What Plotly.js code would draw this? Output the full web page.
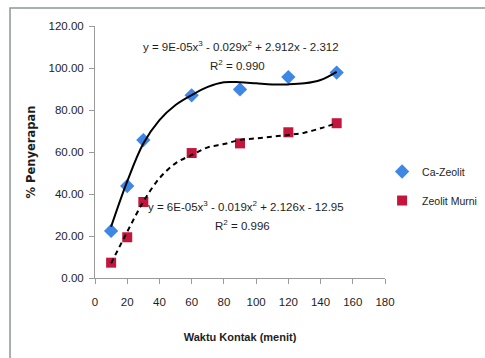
<!DOCTYPE html>
<html>
<head>
<meta charset="utf-8">
<script src="https://cdn.plot.ly/plotly-3.0.1.min.js"></script>
<style>html,body{margin:0;padding:0;background:#fff;}#chart{width:485px;height:358px;}</style>
</head>
<body>
<div id="chart"></div>
<script>
// Measured data
const waktu = [10, 20, 30, 60, 90, 120, 150];
const caZeolit = [22.4, 43.8, 65.7, 87.0, 89.8, 95.7, 97.8];
const zeolitMurni = [7.3, 19.4, 36.2, 59.5, 64.1, 69.4, 73.7];

// Trendline points
const trendX = [10, 20, 30, 40, 50, 60, 70, 80, 90, 100, 110, 120, 130, 140, 150];
const trendCa = [24.4, 46.0, 64.0, 75.2, 82.4, 87.1, 91.0, 93.2, 93.2, 92.7, 92.2, 92.2, 92.7, 94.3, 98.2];
const trendMurni = [7.0, 22.0, 36.3, 47.5, 54.6, 58.6, 62.2, 63.8, 65.7, 66.5, 67.3, 68.1, 69.2, 71.3, 73.7];

const xTicks = [0, 20, 40, 60, 80, 100, 120, 140, 160, 180];
const yTicks = [0, 20, 40, 60, 80, 100, 120];
const yTickText = ["0.00", "20.00", "40.00", "60.00", "80.00", "100.00", "120.00"];

const seriesNames = ["Ca-Zeolit", "Zeolit Murni"];
const eqCa = "y = 9E-05x<sup>3</sup> - 0.029x<sup>2</sup> + 2.912x - 2.312";
const r2Ca = "R<sup>2</sup> = 0.990";
const eqMurni = "y = 6E-05x<sup>3</sup> - 0.019x<sup>2</sup> + 2.126x - 12.95";
const r2Murni = "R<sup>2</sup> = 0.996";

const FONT = "'Liberation Sans', Arial, sans-serif";
const TXT = '#1e1e1e';

const traces = [
  {x: waktu, y: caZeolit, name: seriesNames[0], legendgroup: 'a', type: 'scatter', mode: 'markers',
   marker: {symbol: 'diamond', size: 11, color: '#3f87e5'}},
  {x: waktu, y: zeolitMurni, name: seriesNames[1], legendgroup: 'b', type: 'scatter', mode: 'markers',
   marker: {symbol: 'square', size: 10, color: '#c4163d'}},
  {x: trendX, y: trendCa, type: 'scatter', mode: 'lines', showlegend: false, hoverinfo: 'skip',
   line: {color: '#000', width: 2, shape: 'spline', smoothing: 1}},
  {x: trendX, y: trendMurni, type: 'scatter', mode: 'lines', showlegend: false, hoverinfo: 'skip',
   line: {color: '#000', width: 2, dash: '5px,4px', shape: 'spline', smoothing: 1}}
];

const layout = {
  width: 485, height: 358,
  margin: {l: 95, r: 100, t: 26, b: 80, pad: 0, autoexpand: false},
  paper_bgcolor: '#fff', plot_bgcolor: '#fff',
  font: {family: FONT, size: 11.5, color: TXT},
  showlegend: true,
  legend: {x: 0.99, y: 0.365, xanchor: 'left', yanchor: 'middle', font: {family: FONT, size: 10.5, color: TXT},
           traceorder: 'grouped', tracegroupgap: 10, bgcolor: 'rgba(0,0,0,0)'},
  xaxis: {range: [0, 180], tickvals: xTicks, ticktext: xTicks.map(String), showgrid: false, zeroline: false,
          showline: true, linecolor: '#9a9a9a', linewidth: 1, ticks: 'outside', ticklen: 5, tickcolor: '#9a9a9a',
          ticklabelstandoff: 8,
          tickfont: {family: FONT, size: 11.5, color: TXT},
          title: {text: '<b>Waktu Kontak (menit)</b>', font: {family: FONT, size: 11, color: TXT}, standoff: 26}},
  yaxis: {range: [0, 120], tickvals: yTicks, ticktext: yTickText, showgrid: false, zeroline: false,
          showline: true, linecolor: '#9a9a9a', linewidth: 1, ticks: 'outside', ticklen: 5, tickcolor: '#9a9a9a',
          ticklabelstandoff: 3,
          tickfont: {family: FONT, size: 11.5, color: TXT},
          title: {text: '<b>% Penyerapan</b>', font: {family: "'DejaVu Sans', sans-serif", size: 11.5, color: TXT}, standoff: 10}},
  annotations: [
    {x: 0.502, y: 0.921, xref: 'paper', yref: 'paper', text: eqCa, showarrow: false, xanchor: 'center', yanchor: 'middle'},
    {x: 0.490, y: 0.845, xref: 'paper', yref: 'paper', text: r2Ca, showarrow: false, xanchor: 'center', yanchor: 'middle'},
    {x: 0.520, y: 0.286, xref: 'paper', yref: 'paper', text: eqMurni, showarrow: false, xanchor: 'center', yanchor: 'middle'},
    {x: 0.510, y: 0.210, xref: 'paper', yref: 'paper', text: r2Murni, showarrow: false, xanchor: 'center', yanchor: 'middle'}
  ],
  shapes: [
    {type: 'rect', xref: 'paper', yref: 'paper', x0: -0.293, x1: 1.40, y0: -0.40, y1: 1.071,
     line: {color: '#8c9898', width: 1.5}, fillcolor: 'rgba(0,0,0,0)', layer: 'below'}
  ]
};

Plotly.newPlot('chart', traces, layout, {displayModeBar: false, staticPlot: true});
</script>
</body>
</html>
